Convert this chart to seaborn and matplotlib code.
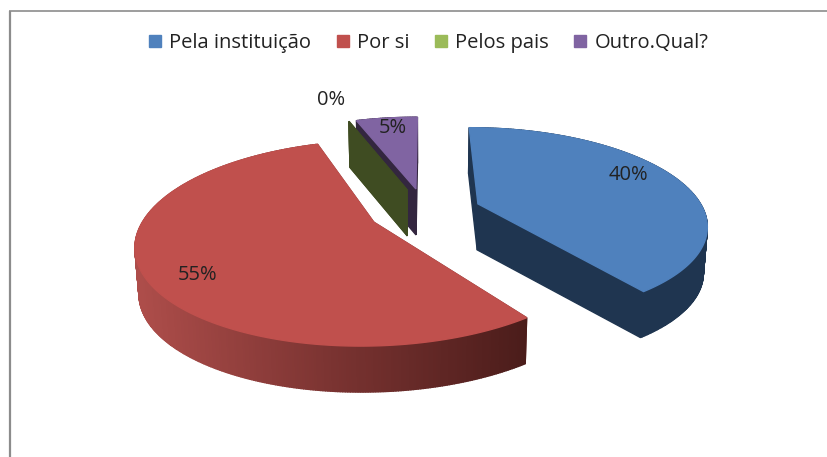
import numpy as np
import matplotlib
matplotlib.use("Agg")
import matplotlib.pyplot as plt
from matplotlib.patches import Patch
import seaborn as sns

# Chart data
categories = ['Pela instituição', 'Por si', 'Pelos pais', 'Outro.Qual?']
shares = [40, 54.6, 0, 5.4]
labels = ['40%', '55%', '0%', '5%']
colors = ['#4f81bd', '#c0504d', '#9bbb59', '#8064a2']
side_colors = ['#1f3550', None, '#3f4c22', '#33263f']
label_pos = [(628, 175), (198, 275), (331, 100), (393, 128)]

sns.set_style("white")
plt.rcParams['font.family'] = ['Open Sans', 'DejaVu Sans']

# Pie projection, in pixels of the 827x457 picture
cx, cy = 425, 211
rx, ry = 226, 94
k = 0.2          # perspective
depth = 46
explode = 0.25


def project(u, v):
    d = 1 + k * v
    return cx + rx * u / d, cy - ry * v / d


def slice_outline(start, end):
    a = np.radians(np.linspace(start, end, max(int(end - start) * 2, 2)))
    mid = np.radians((start + end) / 2)
    ou, ov = explode * np.sin(mid), explode * np.cos(mid)
    u = np.r_[ou, ou + np.sin(a)]
    v = np.r_[ov, ov + np.cos(a)]
    return project(u, v)


def lower(x, y):
    return cx + (x - cx) * 0.986, y + depth


red_side = sns.blend_palette(['#ad4d4a', '#7a3331', '#4a1c1a'], 200)

fig = plt.figure(figsize=(8.27, 4.57), dpi=100)
ax = fig.add_axes([0, 0, 1, 1])
ax.set_xlim(0, 827)
ax.set_ylim(457, 0)
ax.axis('off')

# Chart frame
ax.plot([9.5, 9.5], [457, 11], color='#8c8c8c', lw=1.6, solid_capstyle='butt')
ax.plot([9, 827], [11, 11], color='#8c8c8c', lw=1.2, solid_capstyle='butt')

edges = np.cumsum([0] + shares) / sum(shares) * 360
for i in [3, 2, 0, 1]:
    x, y = slice_outline(edges[i], edges[i + 1])
    xb, yb = lower(x, y)
    n = len(x)
    # walls from back to front
    walls = sorted(range(n), key=lambda j: y[j] + y[(j + 1) % n])
    for j in walls:
        m = (j + 1) % n
        if side_colors[i] is None:
            t = np.clip((x[j] - 140) / 390, 0, 1)
            c = red_side[int(t * 199)]
        else:
            c = side_colors[i]
        ax.fill([x[j], x[m], xb[m], xb[j]], [y[j], y[m], yb[m], yb[j]],
                color=c, lw=1)
    if shares[i] > 0:
        ax.fill(x, y, color=colors[i], lw=1)

for txt, (px, py) in zip(labels, label_pos):
    ax.text(px, py, txt, ha='center', va='center', fontsize=14.5, color='#222222')

handles = [Patch(color=c) for c in colors]
ax.legend(handles, categories, ncol=4, loc='center', bbox_to_anchor=(428.5 / 827, 1 - 43 / 457),
          frameon=False, fontsize=14.5, handlelength=0.6, handleheight=0.6,
          handletextpad=0.4, columnspacing=1.27, labelcolor='#222222')

fig.savefig('out.png', dpi=100)
